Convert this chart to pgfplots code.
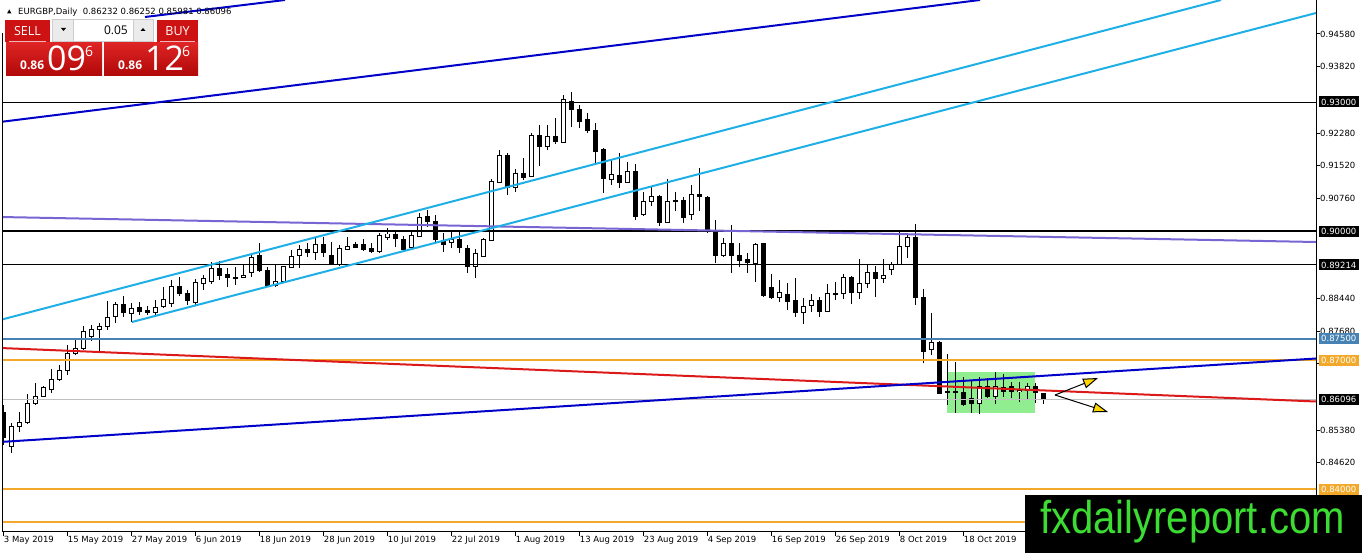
\documentclass[border=0pt]{standalone}
\usepackage{fontspec}
\setmainfont{DejaVu Sans}
\newfontfamily\panelfont{Open Sans}
\newfontfamily\wmfont{Liberation Sans}
\usepackage{pgfplots}
\pgfplotsset{compat=1.18}
\usepackage{pgfplotstable}
\usetikzlibrary{arrows.meta}

\definecolor{navyl}{RGB}{0,0,200}
\definecolor{cyanl}{RGB}{30,175,230}
\definecolor{purpl}{RGB}{120,100,210}
\definecolor{redl}{RGB}{220,25,25}
\definecolor{orangel}{RGB}{242,168,40}
\definecolor{steell}{RGB}{70,130,180}
\definecolor{silverl}{RGB}{192,192,192}
\definecolor{boxgreen}{RGB}{144,238,144}
\definecolor{mtred}{RGB}{204,18,18}
\definecolor{mtredtop}{RGB}{222,36,36}
\definecolor{mtredbot}{RGB}{176,8,8}
\definecolor{wmgreen}{RGB}{60,220,50}
\definecolor{arrowyellow}{RGB}{255,215,0}

\pgfplotstableread{
i o h l c
0 0.85799 0.85962 0.85033 0.85218
1 0.85009 0.85544 0.84847 0.85474
2 0.85474 0.85799 0.85335 0.85567
3 0.85544 0.86217 0.85520 0.86008
4 0.86008 0.86473 0.85962 0.86171
5 0.86171 0.86403 0.86148 0.86380
6 0.86334 0.86798 0.86241 0.86566
7 0.86566 0.86891 0.86519 0.86775
8 0.86775 0.87356 0.86659 0.87170
9 0.87170 0.87472 0.87123 0.87286
10 0.87286 0.87797 0.87240 0.87681
11 0.87542 0.87820 0.87449 0.87727
12 0.87727 0.87867 0.87216 0.87797
13 0.87797 0.88378 0.87704 0.88006
14 0.88029 0.88355 0.87867 0.88308
15 0.88308 0.88494 0.88006 0.88122
16 0.88099 0.88331 0.87890 0.88215
17 0.88238 0.88355 0.88053 0.88146
18 0.88169 0.88262 0.88053 0.88122
19 0.88122 0.88401 0.88053 0.88238
20 0.88238 0.88703 0.88215 0.88401
21 0.88331 0.88866 0.88238 0.88726
22 0.88726 0.88935 0.88494 0.88564
23 0.88564 0.88633 0.88285 0.88401
24 0.88331 0.88889 0.88285 0.88796
25 0.88796 0.88982 0.88633 0.88912
26 0.88819 0.89284 0.88773 0.89121
27 0.89121 0.89307 0.88866 0.88959
28 0.88982 0.89144 0.88703 0.88912
29 0.88935 0.89168 0.88749 0.88912
30 0.88935 0.89214 0.88912 0.88982
31 0.89051 0.89493 0.88935 0.89400
32 0.89446 0.89725 0.89051 0.89075
33 0.89098 0.89168 0.88703 0.88749
34 0.88749 0.89214 0.88703 0.88842
35 0.88842 0.89191 0.88819 0.89168
36 0.89168 0.89563 0.89144 0.89423
37 0.89423 0.89679 0.89144 0.89563
38 0.89563 0.89725 0.89400 0.89516
39 0.89516 0.89864 0.89330 0.89679
40 0.89679 0.89864 0.89400 0.89493
41 0.89423 0.89748 0.89214 0.89237
42 0.89214 0.89679 0.89191 0.89586
43 0.89586 0.89864 0.89563 0.89655
44 0.89679 0.89748 0.89609 0.89632
45 0.89679 0.89818 0.89539 0.89563
46 0.89586 0.89725 0.89493 0.89516
47 0.89516 0.89957 0.89493 0.89888
48 0.89864 0.90074 0.89795 0.89934
49 0.89934 0.89981 0.89632 0.89818
50 0.89818 0.89888 0.89539 0.89563
51 0.89632 0.89981 0.89563 0.89911
52 0.89888 0.90422 0.89864 0.90329
53 0.90329 0.90492 0.90097 0.90213
54 0.90213 0.90376 0.89748 0.89795
55 0.89772 0.89957 0.89516 0.89679
56 0.89725 0.89981 0.89609 0.89795
57 0.89795 0.89981 0.89493 0.89609
58 0.89609 0.89679 0.89028 0.89168
59 0.89168 0.89586 0.88912 0.89470
60 0.89423 0.89841 0.89400 0.89818
61 0.89795 0.91212 0.89772 0.91165
62 0.91142 0.91886 0.91119 0.91769
63 0.91769 0.91816 0.90840 0.91026
64 0.91026 0.91444 0.90910 0.91351
65 0.91351 0.91700 0.91189 0.91258
66 0.91282 0.92280 0.91258 0.92234
67 0.92234 0.92466 0.91514 0.91978
68 0.91955 0.92466 0.91886 0.92188
69 0.92188 0.92629 0.92025 0.92071
70 0.92071 0.93163 0.92048 0.93070
71 0.93024 0.93233 0.92420 0.92838
72 0.92838 0.92931 0.92397 0.92559
73 0.92582 0.92745 0.92280 0.92327
74 0.92350 0.92513 0.91584 0.91862
75 0.91886 0.91932 0.90887 0.91235
76 0.91212 0.91676 0.91072 0.91328
77 0.91305 0.91816 0.91003 0.91142
78 0.91142 0.91607 0.91119 0.91398
79 0.91398 0.91560 0.90259 0.90352
80 0.90376 0.90910 0.90352 0.90701
81 0.90701 0.91026 0.90585 0.90817
82 0.90817 0.90840 0.90120 0.90213
83 0.90213 0.91212 0.90190 0.90701
84 0.90724 0.90910 0.90469 0.90701
85 0.90724 0.90794 0.90190 0.90329
86 0.90399 0.91072 0.90259 0.90863
87 0.90863 0.91467 0.90469 0.90794
88 0.90794 0.90817 0.89957 0.89981
89 0.89981 0.90259 0.89261 0.89446
90 0.89446 0.89841 0.89400 0.89725
91 0.89725 0.90143 0.89028 0.89446
92 0.89446 0.89725 0.89168 0.89330
93 0.89353 0.89493 0.89028 0.89261
94 0.89261 0.89725 0.88819 0.89702
95 0.89702 0.89725 0.88471 0.88494
96 0.88680 0.89005 0.88424 0.88448
97 0.88448 0.88866 0.88355 0.88564
98 0.88540 0.88796 0.88169 0.88378
99 0.88401 0.88912 0.88006 0.88122
100 0.88122 0.88448 0.87843 0.88262
101 0.88285 0.88540 0.88122 0.88401
102 0.88401 0.88471 0.88006 0.88146
103 0.88146 0.88773 0.88122 0.88564
104 0.88564 0.88819 0.88401 0.88540
105 0.88564 0.89005 0.88424 0.88935
106 0.88935 0.88959 0.88308 0.88587
107 0.88587 0.89353 0.88424 0.88796
108 0.88796 0.89237 0.88680 0.89051
109 0.89051 0.89191 0.88471 0.88889
110 0.88889 0.89353 0.88796 0.88959
111 0.89121 0.89284 0.88982 0.89237
112 0.89237 0.89981 0.89214 0.89655
113 0.89655 0.89957 0.89377 0.89864
114 0.89864 0.90166 0.88285 0.88471
115 0.88471 0.88657 0.86938 0.87216
116 0.87263 0.88099 0.87123 0.87425
117 0.87425 0.87449 0.86217 0.86241
118 0.86264 0.87147 0.85962 0.86264
119 0.86264 0.86961 0.85776 0.86264
120 0.86264 0.86612 0.85939 0.85985
121 0.86124 0.86543 0.85776 0.86008
122 0.86008 0.86612 0.85753 0.86403
123 0.86380 0.86589 0.86124 0.86148
124 0.86148 0.86728 0.85985 0.86380
125 0.86380 0.86682 0.86148 0.86287
126 0.86380 0.86496 0.86124 0.86264
127 0.86264 0.86496 0.86032 0.86310
128 0.86310 0.86473 0.86078 0.86403
129 0.86403 0.86473 0.86008 0.86241
130 0.86232 0.86252 0.85981 0.86096
}\candles

\newcommand{\tickfont}{\fontsize{8.5}{10}\selectfont}

\begin{document}
\begin{tikzpicture}
\path[use as bounding box] (0,0) rectangle (1362pt,553pt);
\begin{axis}[
  at={(2pt,21pt)}, anchor=south west,
  scale only axis, width=1314pt, height=532pt,
  xmin=-0.2125, xmax=164.0375, ymin=0.830116, ymax=0.9537,
  axis x line*=bottom, axis y line*=right,
  axis line style={line width=1pt, black},
  tick align=outside, major tick length=4pt,
  tick style={black, line width=1pt},
  xtick={0,8,...,120},
  xticklabels={3 May 2019,15 May 2019,27 May 2019,6 Jun 2019,18 Jun 2019,28 Jun 2019,10 Jul 2019,22 Jul 2019,1 Aug 2019,13 Aug 2019,23 Aug 2019,4 Sep 2019,16 Sep 2019,26 Sep 2019,8 Oct 2019,18 Oct 2019},
  xticklabel style={anchor=north west, inner sep=0pt, font=\tickfont, xshift=0pt},
  ytick={0.84620,0.85380,0.86920,0.87680,0.88440,0.90760,0.91520,0.92280,0.93820,0.94580},
  yticklabel style={anchor=west, inner sep=0pt, font=\tickfont},
  /pgf/number format/fixed, /pgf/number format/zerofill, /pgf/number format/precision=5,
  /pgf/number format/assume math mode=true,
]
% green zone
\addplot [fill=boxgreen, draw=none] coordinates {(117.91,0.85776) (128.91,0.85776) (128.91,0.86728) (117.91,0.86728)} -- cycle;
% wicks
\addplot [draw=none, mark=none, error bars/.cd, y dir=both, y explicit, error mark=none,
  error bar style={draw=black, line width=1pt}]
  table [x=i, y expr={(\thisrow{h}+\thisrow{l})/2}, y error expr={(\thisrow{h}-\thisrow{l})/2}] {\candles};
% bodies (outline / black)
\addplot [draw=none, mark=none, error bars/.cd, y dir=both, y explicit, error mark=none,
  error bar style={draw=black, line width=5pt}]
  table [x=i, y expr={(\thisrow{o}+\thisrow{c})/2}, y error expr={abs(\thisrow{c}-\thisrow{o})/2+0.000116}] {\candles};
% bodies (white interior of up candles)
\addplot [draw=none, mark=none, error bars/.cd, y dir=both, y explicit, error mark=none,
  error bar style={draw=white, line width=3pt}]
  table [x=i, y expr={(\thisrow{o}+\thisrow{c})/2}, y error expr={max(0,(\thisrow{c}-\thisrow{o})/2-0.000116)}] {\candles};
% horizontal levels
\addplot [black, line width=1pt] coordinates {(-1,0.93) (170,0.93)};
\addplot [black, line width=2pt] coordinates {(-1,0.90) (170,0.90)};
\addplot [black, line width=1pt] coordinates {(-1,0.89214) (170,0.89214)};
\addplot [steell, line width=2pt] coordinates {(-1,0.875) (170,0.875)};
\addplot [orangel, line width=2pt] coordinates {(-1,0.87) (170,0.87)};
\addplot [silverl, line width=1pt] coordinates {(-1,0.86096) (170,0.86096)};
\addplot [orangel, line width=2pt] coordinates {(-1,0.84) (170,0.84)};
\addplot [orangel, line width=2pt] coordinates {(-1,0.8325) (170,0.8325)};
% trend lines
\addplot [purpl, line width=2pt] coordinates {(-0.4625,0.90329) (164.04,0.89748)};
\addplot [navyl, line width=2pt] coordinates {(-0.4625,0.92536) (122.04,0.95370)};
\addplot [navyl, line width=2pt] coordinates {(17.66,0.94975) (35.16,0.95370)};
\addplot [cyanl, line width=2pt] coordinates {(-0.4625,0.87936) (152.16,0.95370)};
\addplot [cyanl, line width=2pt] coordinates {(16.04,0.87890) (164.04,0.95068)};
\addplot [redl, line width=2pt] coordinates {(-0.4625,0.87286) (164.04,0.86043)};
\addplot [navyl, line width=2pt] coordinates {(-0.4625,0.85102) (164.04,0.87042)};
% arrows
\addplot [black, line width=1pt, -{Triangle[length=15pt, width=10pt, fill=arrowyellow]}] coordinates {(131.41,0.86194) (136.79,0.86589)};
\addplot [black, line width=1pt, -{Triangle[length=15pt, width=10pt, fill=arrowyellow]}] coordinates {(131.41,0.86194) (138.04,0.85799)};
\end{axis}

\begin{scope}[x=1pt, y=-1pt, shift={(0pt,553pt)}]
% left border
\draw[black, line width=1pt] (2.5,33) -- (2.5,532);
% highlighted price labels
\tikzset{plab/.style={anchor=west, inner xsep=2.5pt, inner ysep=0pt, minimum height=11pt, font=\tickfont, text=white}}
\node[plab, fill=black] at (1318.5,102) {0.93000};
\node[plab, fill=black] at (1318.5,231.2) {0.90000};
\node[plab, fill=black] at (1318.5,265) {0.89214};
\node[plab, fill=steell] at (1318.5,338.8) {0.87500};
\node[plab, fill=orangel] at (1318.5,360.3) {0.87000};
\node[plab, fill=black] at (1318.5,399.2) {0.86096};
\node[plab, fill=orangel] at (1318.5,489.5) {0.84000};
% header
\fill[black] (7,13.5) -- (11.5,13.5) -- (9.25,9.5) -- cycle;
\node[anchor=base west, inner sep=0pt, font=\tickfont] at (18,14.5) {EURGBP,Daily\ \ 0.86232 0.86252 0.85981 0.86096};
% trade panel
\fill[mtred] (5,20) rectangle (50,42);
\draw[white!70!mtred, line width=0.6pt] (9,41.5) -- (46,41.5);
\node[text=white, font=\panelfont\fontsize{12.5}{13}\selectfont] at (27.5,31) {SELL};
\fill[black!20] (52,19.5) rectangle (153.5,42.5);
\fill[white] (74,20.5) rectangle (132.5,41.5);
\fill[black!8] (53,20.5) rectangle (73,41.5);
\fill[black!8] (133.5,20.5) rectangle (152.5,41.5);
\fill[black] (61,28) -- (66,28) -- (63.5,31) -- cycle;
\fill[black] (140.5,31) -- (145.5,31) -- (143,28) -- cycle;
\node[anchor=east, inner sep=0pt, font=\panelfont\fontsize{12}{13}\selectfont] at (128,30.5) {0.05};
\fill[mtred] (157,20) rectangle (198,42);
\draw[white!70!mtred, line width=0.6pt] (160,41.5) -- (195,41.5);
\node[text=white, font=\panelfont\fontsize{12.5}{13}\selectfont] at (177.5,31) {BUY};
\shade[top color=mtredtop, bottom color=mtredbot] (6,43) rectangle (102,76);
\shade[top color=mtredtop, bottom color=mtredbot] (104,43) rectangle (198,76);
\node[anchor=base west, inner sep=0pt, text=white, font=\panelfont\bfseries\fontsize{12}{13}\selectfont] at (20,70) {0.86};
\node[anchor=base west, inner sep=0pt, text=white, font=\panelfont\fontsize{34}{34}\selectfont] at (47,71) {09};
\node[anchor=base west, inner sep=0pt, text=white, font=\panelfont\fontsize{14}{14}\selectfont] at (85,57) {6};
\node[anchor=base west, inner sep=0pt, text=white, font=\panelfont\bfseries\fontsize{12}{13}\selectfont] at (118,70) {0.86};
\node[anchor=base west, inner sep=0pt, text=white, font=\panelfont\fontsize{34}{34}\selectfont] at (145,71) {12};
\node[anchor=base west, inner sep=0pt, text=white, font=\panelfont\fontsize{14}{14}\selectfont] at (182,57) {6};
% watermark
\fill[black] (1025,495) rectangle (1362,553);
\node[anchor=base, inner sep=0pt, text=wmgreen, font=\wmfont\fontsize{46}{46}\selectfont, xscale=0.87] at (1192.5,534) {fxdailyreport.com};
\end{scope}
\end{tikzpicture}
\end{document}
